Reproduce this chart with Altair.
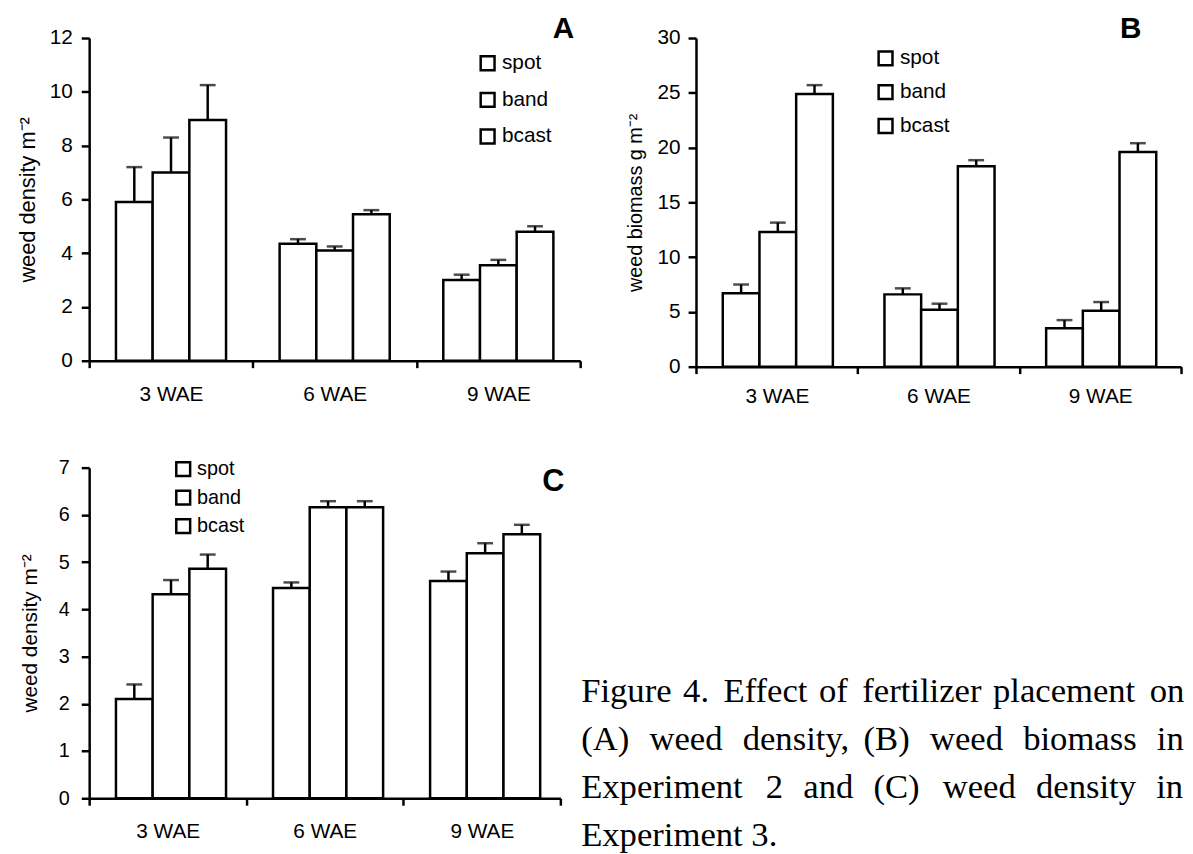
import altair as alt
import pandas as pd

weeks = ["3 WAE", "6 WAE", "9 WAE"]
placements = ["spot", "band", "bcast"]

# Panel A: weed density (Experiment 2)
a_spot = [5.9, 4.35, 3.0]
a_band = [7.0, 4.1, 3.55]
a_bcast = [8.95, 5.45, 4.8]
a_spot_se = [1.3, 0.17, 0.2]
a_band_se = [1.3, 0.15, 0.2]
a_bcast_se = [1.3, 0.15, 0.2]

# Panel B: weed biomass (Experiment 2)
b_spot = [6.7, 6.6, 3.5]
b_band = [12.3, 5.2, 5.1]
b_bcast = [24.9, 18.3, 19.6]
b_spot_se = [0.8, 0.55, 0.75]
b_band_se = [0.85, 0.55, 0.8]
b_bcast_se = [0.8, 0.55, 0.8]

# Panel C: weed density (Experiment 3)
c_spot = [2.1, 4.45, 4.6]
c_band = [4.32, 6.16, 5.19]
c_bcast = [4.86, 6.16, 5.59]
c_spot_se = [0.31, 0.12, 0.2]
c_band_se = [0.3, 0.13, 0.21]
c_bcast_se = [0.3, 0.13, 0.2]

caption_lines = [
    "Figure 4. Effect of fertilizer placement on",
    "(A) weed density, (B) weed biomass in",
    "Experiment 2 and (C) weed density in",
    "Experiment 3.",
]

SANS = "Liberation Sans"
SERIF = "Liberation Serif"
LW = 2.5

# word gaps used to imitate the justified caption (styling only)
GAP_A = "\u2004"
GAP_B = " \u2006"
GAP_C = " \u2004"
GAP_D = "\u2004\u2004"
line_gaps = [
    [GAP_A, GAP_B] * 3,
    [GAP_C, GAP_C, GAP_B, GAP_C, GAP_C, GAP_C],
    [GAP_D, GAP_C, GAP_C, GAP_D, GAP_C, GAP_C],
    [" "] * 6,
]


def justify(line, gaps):
    words = line.split(" ")
    out = words[0]
    for i, w in enumerate(words[1:]):
        out += gaps[i] + w
    return out


def panel(spot, band, bcast, spot_se, band_se, bcast_se, ymax, ystep, ytitle,
          letter, W, H, tick_fs, xlab_fs, title_fs, ylab_pad, xlab_pad, title_pad,
          leg_x, leg_y, leg_fs, leg_row, letter_x, letter_y, letter_fs):
    rows = []
    for p, vals, ses in zip(placements, [spot, band, bcast], [spot_se, band_se, bcast_se]):
        for w, v, s in zip(weeks, vals, ses):
            rows.append({"week": w, "placement": p, "value": v, "upper": v + s})
    df = pd.DataFrame(rows)

    x = alt.X("week:N", sort=weeks,
              scale=alt.Scale(paddingInner=0, paddingOuter=0),
              axis=alt.Axis(title=None, tickBand="extent", labelAngle=0,
                            labelFont=SANS, labelFontSize=xlab_fs, labelColor="black",
                            labelPadding=xlab_pad, tickSize=7, tickWidth=LW,
                            tickColor="black", domainColor="black", domainWidth=LW))
    xo = alt.XOffset("placement:N", sort=placements,
                     scale=alt.Scale(paddingInner=0, paddingOuter=0.73))
    y = alt.Y("value:Q",
              scale=alt.Scale(domain=[0, ymax], nice=False, zero=True),
              axis=alt.Axis(values=list(range(0, ymax + 1, ystep)), title=ytitle,
                            grid=False, labelFont=SANS, labelFontSize=tick_fs,
                            labelColor="black", labelPadding=ylab_pad, tickSize=8,
                            tickWidth=LW, tickColor="black", domainColor="black",
                            domainWidth=LW, titleFont=SANS, titleFontSize=title_fs,
                            titleFontWeight="normal", titleColor="black",
                            titlePadding=title_pad))
    base = alt.Chart(df)
    bars = base.mark_bar(stroke="black", strokeWidth=LW).encode(
        x=x, xOffset=xo, y=y,
        fill=alt.Fill("placement:N", sort=placements,
                      scale=alt.Scale(domain=placements, range=["white", "white", "white"]),
                      legend=alt.Legend(title=None, orient="none", legendX=leg_x, legendY=leg_y,
                                        symbolType="square", symbolSize=196,
                                        symbolStrokeColor="black", symbolStrokeWidth=LW,
                                        symbolFillColor="white",
                                        labelFont=SANS, labelFontSize=leg_fs,
                                        labelColor="black", labelOffset=4,
                                        rowPadding=leg_row, padding=0)))
    rules = base.mark_rule(color="black", strokeWidth=LW).encode(
        x=x, xOffset=xo, y="value:Q", y2="upper:Q")
    caps = base.mark_tick(color="black", thickness=LW, size=16, orient="horizontal").encode(
        x=x, xOffset=xo, y="upper:Q")
    lab = alt.Chart(pd.DataFrame({"t": [letter]})).mark_text(
        font=SANS, fontSize=letter_fs, fontWeight="bold", align="right",
        baseline="alphabetic", color="black").encode(
        text="t:N", x=alt.value(letter_x), y=alt.value(letter_y))
    return alt.layer(bars, rules, caps, lab).properties(width=W, height=H)


A = panel(a_spot, a_band, a_bcast, a_spot_se, a_band_se, a_bcast_se, 12, 2,
          "weed density m⁻²", "A", 496, 326, 21, 21, 22, 9, 16.5, 10,
          392, 15, 21, 12, 490, 0, 30)
B = panel(b_spot, b_band, b_bcast, b_spot_se, b_band_se, b_bcast_se, 30, 5,
          "weed biomass g m⁻²", "B", 490, 332, 21, 21, 20, 8, 12, 12,
          181, 10, 21, 9.2, 450, 0, 30)
C = panel(c_spot, c_band, c_bcast, c_spot_se, c_band_se, c_bcast_se, 7, 1,
          "weed density m⁻²", "C", 476, 334, 20, 21, 21, 12, 16, 18,
          85, -8.5, 20, 4.8, 480, 24, 31)

caption_text = "\n".join(justify(l, g) for l, g in zip(caption_lines, line_gaps))
caption = alt.Chart(pd.DataFrame({"t": [caption_text]})).mark_text(
    font=SERIF, fontSize=35, align="left", baseline="alphabetic",
    lineBreak="\n", lineHeight=48.5, color="black").encode(
    text="t:N", x=alt.value(0), y=alt.value(237)).properties(width=600, height=334)

top = alt.hconcat(A, B, spacing=43).resolve_scale(fill="independent")
bottom = alt.hconcat(C, caption, spacing=17).resolve_scale(fill="independent")
chart = alt.vconcat(top, bottom, spacing=52).resolve_scale(fill="independent").properties(
    padding={"left": 8, "top": 2, "right": 0, "bottom": 0},
    background="white",
).configure_view(stroke=None)

chart.save("out.html", embed_options={"renderer": "svg", "actions": False})
